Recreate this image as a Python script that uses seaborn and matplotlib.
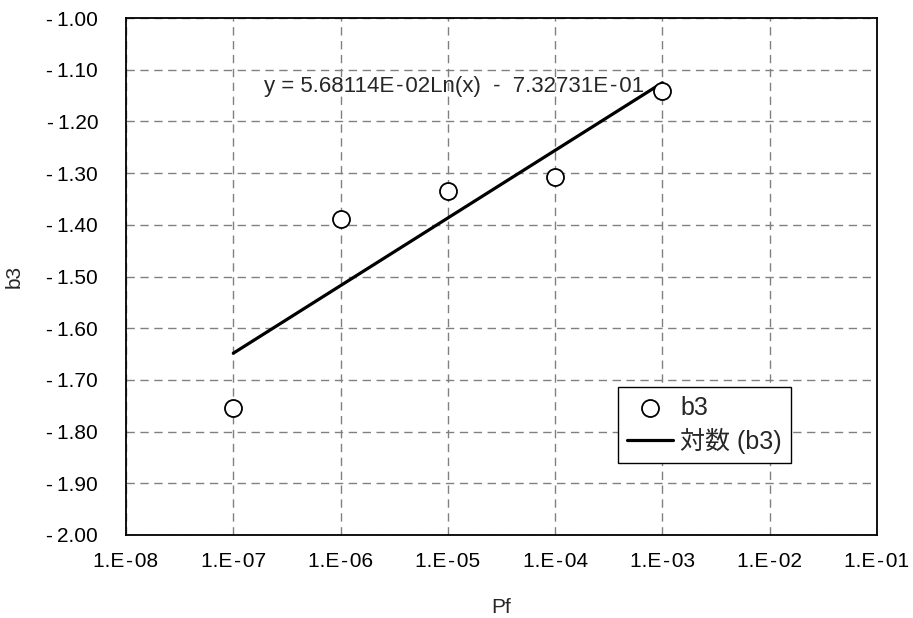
import numpy as np
import pandas as pd
import matplotlib
matplotlib.use("Agg")
import matplotlib.pyplot as plt
import seaborn as sns
from matplotlib.ticker import FixedLocator, FixedFormatter, NullLocator

# Data
pf = [1e-7, 1e-6, 1e-5, 1e-4, 1e-3]
b3 = [-1.755, -1.388, -1.335, -1.307, -1.141]
slope = 5.68114e-02
intercept = -7.32731e-01
x_ticks = [1e-8, 1e-7, 1e-6, 1e-5, 1e-4, 1e-3, 1e-2, 1e-1]
x_labels = ["1.E\u200a-\u200a08", "1.E\u200a-\u200a07", "1.E\u200a-\u200a06", "1.E\u200a-\u200a05",
            "1.E\u200a-\u200a04", "1.E\u200a-\u200a03", "1.E\u200a-\u200a02", "1.E\u200a-\u200a01"]
y_ticks = [-2.0, -1.9, -1.8, -1.7, -1.6, -1.5, -1.4, -1.3, -1.2, -1.1, -1.0]
y_labels = ["-\u20092.00", "-\u20091.90", "-\u20091.80", "-\u20091.70", "-\u20091.60", "-\u20091.50",
            "-\u20091.40", "-\u20091.30", "-\u20091.20", "-\u20091.10", "-\u20091.00"]
equation = "y = 5.68114E\u200a-\u200a02Ln(x)  -  7.32731E\u200a-\u200a01"

sns.set_style("white")
plt.rcParams['font.family'] = ['Liberation Sans', 'Noto Sans CJK JP', 'DejaVu Sans']

fig = plt.figure(figsize=(9.13, 6.18), dpi=100)
ax = fig.add_axes([126/913, 1 - 535/618, 751/913, 517/618])

df = pd.DataFrame({"Pf": pf, "b3": b3})
xt = np.logspace(np.log10(pf[0]), np.log10(pf[-1]), 100)
trend = pd.DataFrame({"Pf": xt, "b3": slope * np.log(xt) + intercept})

sns.scatterplot(data=df, x="Pf", y="b3", ax=ax, marker="o", s=150,
                facecolor="white", edgecolor="black", linewidth=1.3,
                label="b3", zorder=4)
sns.lineplot(data=trend, x="Pf", y="b3", ax=ax, color="black", linewidth=2.3,
             label="対数 (b3)", zorder=3)

ax.set_xscale("log")
ax.set_xlim(1e-8, 1e-1)
ax.set_ylim(-2.0, -1.0)
ax.xaxis.set_major_locator(FixedLocator(x_ticks))
ax.xaxis.set_major_formatter(FixedFormatter(x_labels))
ax.xaxis.set_minor_locator(NullLocator())
ax.yaxis.set_major_locator(FixedLocator(y_ticks))
ax.yaxis.set_major_formatter(FixedFormatter(y_labels))

ax.grid(True, which="major", color="#808080", linestyle=(0, (6, 4)), linewidth=1.0)
ax.set_axisbelow(True)
for s in ["top", "right", "left", "bottom"]:
    ax.spines[s].set_visible(True)
    ax.spines[s].set_color("black")
    ax.spines[s].set_linewidth(1.3)

ax.tick_params(axis="both", direction="in", length=5, width=1, colors="black",
               labelsize=15)
ax.tick_params(axis="x", pad=12)
ax.tick_params(axis="y", pad=20)
ax.set_xlabel("Pf", fontsize=15, labelpad=20)
ax.set_ylabel("b3", fontsize=15, labelpad=16)

ax.text(1.95e-7, -1.133, equation, fontsize=16, ha="left", va="center", zorder=5)

leg = ax.legend(loc="upper left", bbox_to_anchor=(0.655, 0.286), fontsize=18,
                frameon=True, fancybox=False, framealpha=1, edgecolor="black",
                borderpad=0.35, handlelength=1.85, handletextpad=0.3, labelspacing=0.33,
                borderaxespad=0)
leg.get_frame().set_linewidth(1.0)

fig.savefig("out.png", dpi=100)
